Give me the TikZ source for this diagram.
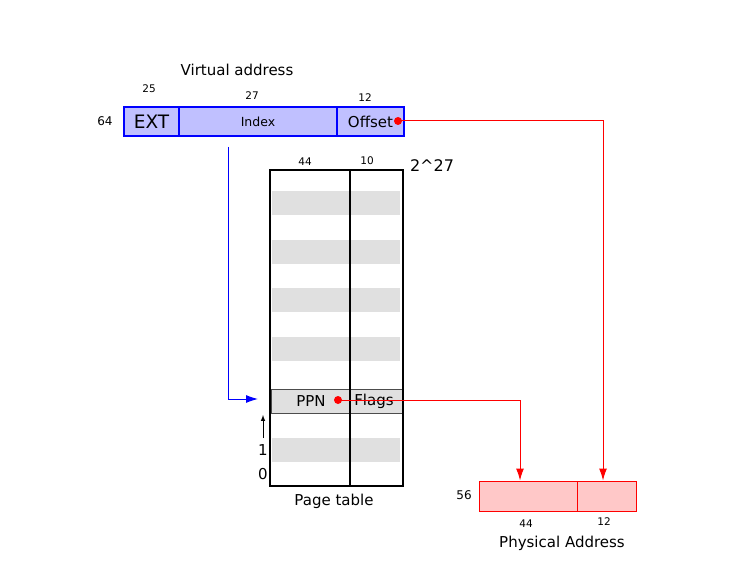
\documentclass[tikz,border=0pt]{standalone}
\usepackage{fontspec}
\setmainfont{DejaVu Sans}
\usetikzlibrary{positioning}
\usetikzlibrary{arrows.meta}
\definecolor{vafill}{HTML}{C0C0FF}
\definecolor{pafill}{HTML}{FFC8C8}
\definecolor{rowgray}{HTML}{E0E0E0}
\tikzset{every picture/.style={line width=1pt},
  field/.style={draw=blue,fill=vafill,line width=1.5pt,inner sep=0,minimum height=29pt},
  pfield/.style={draw=red,fill=pafill,line width=1pt,inner sep=0,minimum height=30pt},
  bits/.style={font=\fontsize{10.5}{12}\selectfont},
  lbl/.style={font=\fontsize{15}{18}\selectfont},
  row/.style={fill=rowgray,draw=none,inner sep=0,minimum width=128pt,minimum height=24pt},
  rdot/.style={circle,fill=red,inner sep=0,minimum size=8pt},
  tip/.style={-{Latex[length=12pt,width=8pt]}}}

\begin{document}
\begin{tikzpicture}[x=1pt,y=-1pt]
\useasboundingbox (0,0) rectangle (754,585);

% virtual address
\node (va) at (237,70) [lbl] {Virtual address};
\node (ext) at (151.5,121.5) [field,minimum width=55pt] {\fontsize{18.5}{20}\selectfont EXT};
\node (idx) at (258,121.5) [field,minimum width=158pt] {\fontsize{12.5}{14}\selectfont Index};
\node (off) at (370.5,121.5) [field,minimum width=67pt,lbl] {Offset\hspace{10pt}};
\node (n25) at (149,89) [bits] {25};
\node (n27) at (252,96) [bits] {27};
\node (n12) at (365,98) [bits] {12};
\node (n64) at (105,121) [font=\fontsize{12}{14}\selectfont] {64};
\node (odot) at (398,121) [rdot] {};

% page table
\foreach \y in {203,252,300,349,450}
  \node at (336,\y) [row] {};
\node (pte) at (337,401) [row,draw=black!70,line width=1pt,minimum width=132pt] {};
\node (pt) at (336.5,328) [draw,line width=1.5pt,minimum width=133pt,minimum height=316pt,inner sep=0] {};
\draw[line width=1.5pt] (350,170) -- (350,486);
\node (n44) at (305,162) [bits] {44};
\node (n10) at (367,161) [bits] {10};
\node (top) at (432,166) [font=\fontsize{16}{18}\selectfont] {2\^{}27};
\node (ppn) at (311,401) [lbl] {PPN};
\node (flags) at (374,401) [lbl] {Flags};
\node (pdot) at (338,400) [rdot] {};
\node (one) at (263,450) [lbl] {1};
\node (zero) at (263,474) [lbl] {0};
\node (ptl) at (334,501) [lbl] {Page table};
\coordinate (up0) at (263,438);
\coordinate (up1) at (263,415);
\draw[-latex] (up0) -- (up1);

% physical address
\node (pa1) at (528,496) [pfield,minimum width=98pt] {};
\node (pa2) at (606.5,496) [pfield,minimum width=59pt] {};
\node (n56) at (464,495) [font=\fontsize{12}{14}\selectfont] {56};
\node (p44) at (526,524) [bits] {44};
\node (p12) at (604,522) [bits] {12};
\node (pal) at (562,543) [lbl] {Physical Address};

% connectors
\coordinate (vstart) at (228,147);
\coordinate (vend) at (258,399);
\draw[blue,tip] (vstart) |- (vend);
\draw[red,tip] (odot.center) -| ([xshift=-3.5pt]pa2.north);
\draw[red,tip] (pdot.center) -| ([xshift=-8pt]pa1.north);
\end{tikzpicture}
\end{document}
